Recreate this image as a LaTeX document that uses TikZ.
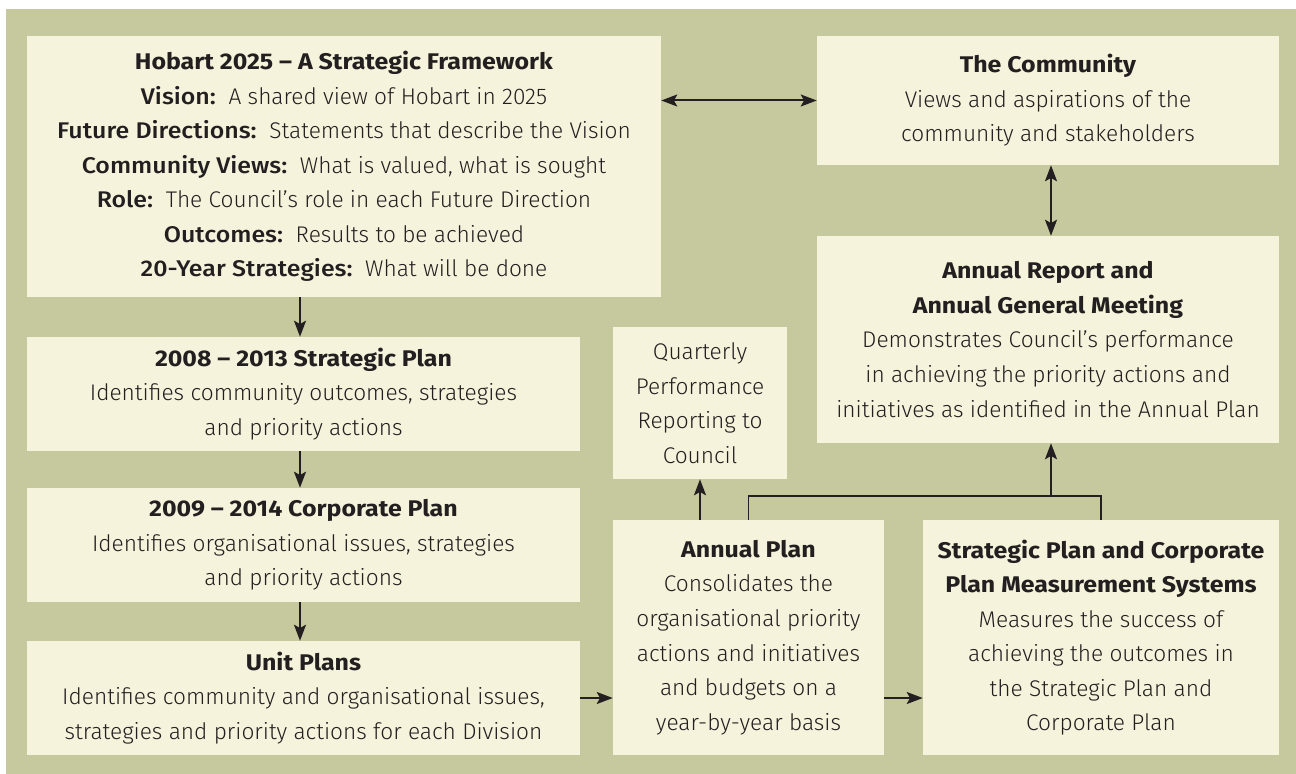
\documentclass[tikz,border=0pt]{standalone}
\usepackage{fontspec}
\setmainfont{Fira Sans Light}[BoldFont={Fira Sans Bold}, BoldFeatures={FakeStretch=1.1}]
\newfontfamily\medf{Fira Sans Medium}[FakeStretch=1.1]
\usetikzlibrary{arrows.meta}
\definecolor{bggreen}{HTML}{C6C89D}
\definecolor{boxcream}{HTML}{F6F3DC}
\definecolor{ink}{HTML}{231F20}
\tikzset{
  box/.style={rectangle, fill=boxcream, inner sep=0pt, align=center, text=ink,
    font=\fontsize{17}{25.9}\selectfont},
  arr/.style={-{Stealth[length=12pt,width=9pt,inset=2.5pt]}, line width=1.5pt, draw=ink},
  darr/.style={{Stealth[length=12pt,width=9pt,inset=2.5pt]}-{Stealth[length=12pt,width=9pt,inset=2.5pt]}, line width=1.5pt, draw=ink},
  conn/.style={line width=1.4pt, draw=ink}
}
\newcommand{\lbl}[1]{{\medf #1}}
\begin{document}
\begin{tikzpicture}[x=0.75pt,y=-0.75pt]
\useasboundingbox (0,0) rectangle (1296,774);
\fill[bggreen] (6,9) rectangle (1296,774);

\node[box, minimum width=475.5pt, minimum height=195.75pt] (hob) at (344,166.5)
 {\textbf{Hobart 2025 – A Strategic Framework}\\
  \lbl{Vision:}\ \ A shared view of Hobart in 2025\\
  \lbl{Future Directions:}\ \ Statements that describe the Vision\\
  \lbl{Community Views:}\ \ What is valued, what is sought\\
  \lbl{Role:}\ \ The Council’s role in each Future Direction\\
  \lbl{Outcomes:}\ \ Results to be achieved\\
  \lbl{20-Year Strategies:}\ \ What will be done};

\node[box, minimum width=346.5pt, minimum height=96.75pt] (com) at (1048,100.5)
 {\textbf{The Community}\\
  Views and aspirations of the\\
  community and stakeholders};

\node[box, minimum width=346.5pt, minimum height=155.25pt] (ar) at (1048,339.5)
 {\textbf{Annual Report and}\\
  \textbf{Annual General Meeting}\\
  Demonstrates Council’s performance\\
  in achieving the priority actions and\\
  initiatives as identified in the Annual Plan};

\node[box, minimum width=414.75pt, minimum height=85.5pt] (sp) at (303.5,394)
 {\textbf{2008 – 2013 Strategic Plan}\\
  Identifies community outcomes, strategies\\
  and priority actions};

\node[box, minimum width=414.75pt, minimum height=85.5pt] (cp) at (303.5,545)
 {\textbf{2009 – 2014 Corporate Plan}\\
  Identifies organisational issues, strategies\\
  and priority actions};

\node[box, minimum width=414.75pt, minimum height=85.5pt] (up) at (303.5,698)
 {\textbf{Unit Plans}\\
  Identifies community and organisational issues,\\
  strategies and priority actions for each Division};

\node[box, minimum width=130.5pt, minimum height=114pt] (q) at (700,403)
 {Quarterly\\ Performance\\ Reporting to\\ Council};

\node[box, minimum width=203.25pt, minimum height=176.25pt] (ap) at (748.5,637.5)
 {\textbf{Annual Plan}\\
  Consolidates the\\
  organisational priority\\
  actions and initiatives\\
  and budgets on a\\
  year-by-year basis};

\node[box, minimum width=267pt, minimum height=176.25pt] (ms) at (1101,637.5)
 {\textbf{Strategic Plan and Corporate}\\
  \textbf{Plan Measurement Systems}\\
  Measures the success of\\
  achieving the outcomes in\\
  the Strategic Plan and\\
  Corporate Plan};

\coordinate (hy) at (0,496);
\coordinate (ax) at (1051,0);
\coordinate (dx) at (300,0);

\draw[darr] (hob.east |- com.west) -- (com.west);
\draw[darr] (ax |- com.south) -- (ax |- ar.north);
\draw[arr] (dx |- hob.south) -- (dx |- sp.north);
\draw[arr] (dx |- sp.south) -- (dx |- cp.north);
\draw[arr] (dx |- cp.south) -- (dx |- up.north);
\draw[arr] (up.east) -- (up.east -| ap.west);
\draw[arr] (up.east -| ap.east) -- (up.east -| ms.west);
\draw[arr] (q.south |- ap.north) -- (q.south);
\draw[conn] (ap.north) -- (ap.north |- hy) -- (ms.north |- hy) -- (ms.north);
\draw[arr] (ax |- hy) -- (ax |- ar.south);
\end{tikzpicture}
\end{document}
